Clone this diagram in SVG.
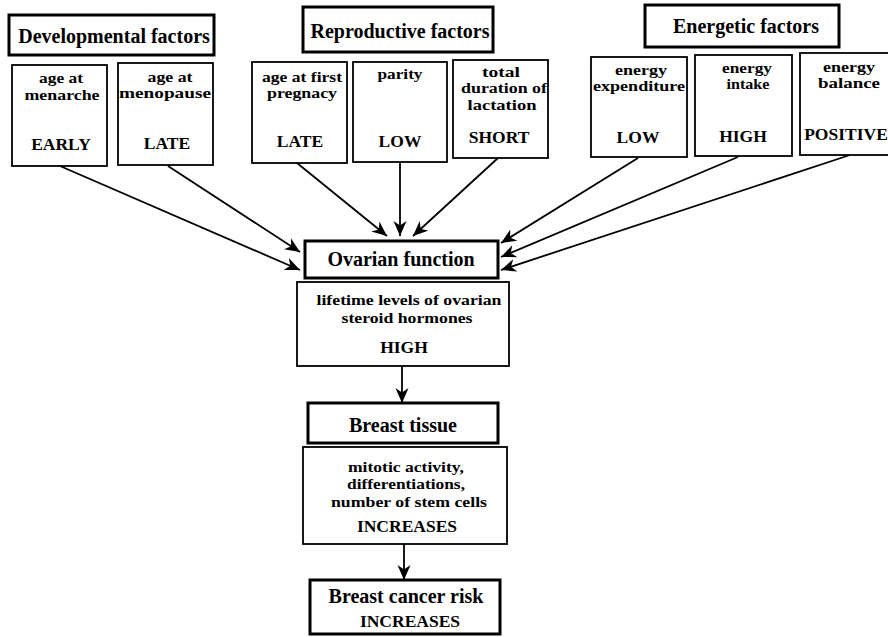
<svg xmlns="http://www.w3.org/2000/svg" width="888" height="637" viewBox="0 0 888 637">
<style>
text{font-family:"Liberation Serif","Times New Roman",serif;font-weight:bold;fill:#000;text-anchor:middle}
.h{font-size:20px}
.s{font-size:15px}
.v{font-size:17.5px}
.hb{fill:#fff;stroke:#000;stroke-width:3}
.b{fill:#fff;stroke:#000;stroke-width:1.8}
.c{stroke:#000;stroke-width:1.8;fill:none;marker-end:url(#ah)}
</style>
<defs>
<marker id="ah" markerUnits="userSpaceOnUse" markerWidth="16" markerHeight="14" refX="15" refY="7" orient="auto">
<path d="M0,0.5 L15,7 L0,13.5 L4.5,7 Z" fill="#000"/>
</marker>
</defs>
<rect width="888" height="637" fill="#fff"/>
<g id="connectors">
<line class="c" x1="60" y1="166" x2="300" y2="270"/>
<line class="c" x1="168" y1="166" x2="300" y2="252"/>
<line class="c" x1="297" y1="163" x2="387" y2="236"/>
<line class="c" x1="400" y1="163" x2="400" y2="236"/>
<line class="c" x1="498" y1="158" x2="413" y2="236"/>
<line class="c" x1="638" y1="158" x2="501" y2="243"/>
<line class="c" x1="738" y1="157" x2="501" y2="257"/>
<line class="c" x1="850" y1="155" x2="501" y2="270"/>
<line class="c" x1="402" y1="366" x2="402" y2="403"/>
<line class="c" x1="404" y1="544" x2="404" y2="580"/>
</g>
<g id="developmental">
<rect class="hb" x="9" y="15" width="205" height="40"/>
<text class="h" x="114" y="43">Developmental factors</text>
</g>
<g id="menarche">
<rect class="b" x="12" y="65" width="95" height="101"/>
<text class="s" x="61" y="83" textLength="44" lengthAdjust="spacingAndGlyphs">age at</text>
<text class="s" x="62" y="100" textLength="75" lengthAdjust="spacingAndGlyphs">menarche</text>
<text class="v" x="61" y="150">EARLY</text>
</g>
<g id="menopause">
<rect class="b" x="118" y="63" width="95" height="102"/>
<text class="s" x="170" y="82" textLength="45" lengthAdjust="spacingAndGlyphs">age at</text>
<text class="s" x="165" y="98" textLength="92" lengthAdjust="spacingAndGlyphs">menopause</text>
<text class="v" x="167" y="149">LATE</text>
</g>
<g id="reproductive">
<rect class="hb" x="303" y="7" width="190" height="45"/>
<text class="h" x="400" y="38">Reproductive factors</text>
</g>
<g id="firstpregnancy">
<rect class="b" x="252" y="62" width="95" height="101"/>
<text class="s" x="302" y="82" textLength="80" lengthAdjust="spacingAndGlyphs">age at first</text>
<text class="s" x="302" y="98" textLength="70" lengthAdjust="spacingAndGlyphs">pregnacy</text>
<text class="v" x="300" y="147">LATE</text>
</g>
<g id="parity">
<rect class="b" x="353" y="62" width="94" height="100"/>
<text class="s" x="400" y="79" textLength="45" lengthAdjust="spacingAndGlyphs">parity</text>
<text class="v" x="400" y="147">LOW</text>
</g>
<g id="lactation">
<rect class="b" x="453" y="60" width="95" height="98"/>
<text class="s" x="501" y="77" textLength="38" lengthAdjust="spacingAndGlyphs">total</text>
<text class="s" x="504" y="93" textLength="86" lengthAdjust="spacingAndGlyphs">duration of</text>
<text class="s" x="502" y="110" textLength="69" lengthAdjust="spacingAndGlyphs">lactation</text>
<text class="v" x="499" y="143">SHORT</text>
</g>
<g id="energetic">
<rect class="hb" x="645" y="5" width="194" height="42"/>
<text class="h" x="746" y="33">Energetic factors</text>
</g>
<g id="expenditure">
<rect class="b" x="591" y="57" width="96" height="100"/>
<text class="s" x="641" y="75" textLength="52" lengthAdjust="spacingAndGlyphs">energy</text>
<text class="s" x="639" y="91" textLength="92" lengthAdjust="spacingAndGlyphs">expenditure</text>
<text class="v" x="638" y="143">LOW</text>
</g>
<g id="intake">
<rect class="b" x="695" y="55" width="97" height="101"/>
<text class="s" x="747" y="73" textLength="50" lengthAdjust="spacingAndGlyphs">energy</text>
<text class="s" x="748" y="89" textLength="43" lengthAdjust="spacingAndGlyphs">intake</text>
<text class="v" x="743" y="142">HIGH</text>
</g>
<g id="balance">
<rect class="b" x="800" y="53" width="100" height="102"/>
<text class="s" x="849" y="72" textLength="52" lengthAdjust="spacingAndGlyphs">energy</text>
<text class="s" x="849" y="88" textLength="62" lengthAdjust="spacingAndGlyphs">balance</text>
<text class="v" x="846" y="140">POSITIVE</text>
</g>
<g id="ovarian">
<rect class="hb" x="305" y="241" width="193" height="37"/>
<text class="h" x="401" y="266">Ovarian function</text>
</g>
<g id="hormones">
<rect class="b" x="297" y="282" width="212" height="84"/>
<text class="s" x="409" y="305" textLength="185" lengthAdjust="spacingAndGlyphs">lifetime levels of ovarian</text>
<text class="s" x="407" y="323" textLength="131" lengthAdjust="spacingAndGlyphs">steroid hormones</text>
<text class="v" x="404" y="353">HIGH</text>
</g>
<g id="breasttissue">
<rect class="hb" x="308" y="403" width="190" height="40"/>
<text class="h" x="403" y="432">Breast tissue</text>
</g>
<g id="mitotic">
<rect class="b" x="303" y="447" width="204" height="97"/>
<text class="s" x="406" y="472" textLength="116" lengthAdjust="spacingAndGlyphs">mitotic activity,</text>
<text class="s" x="406" y="489" textLength="118" lengthAdjust="spacingAndGlyphs">differentiations,</text>
<text class="s" x="409" y="507" textLength="156" lengthAdjust="spacingAndGlyphs">number of stem cells</text>
<text class="v" x="407" y="532">INCREASES</text>
</g>
<g id="risk">
<rect class="hb" x="310" y="580" width="190" height="54"/>
<text class="h" x="406" y="603">Breast cancer risk</text>
<text class="v" x="410" y="627">INCREASES</text>
</g>
</svg>
